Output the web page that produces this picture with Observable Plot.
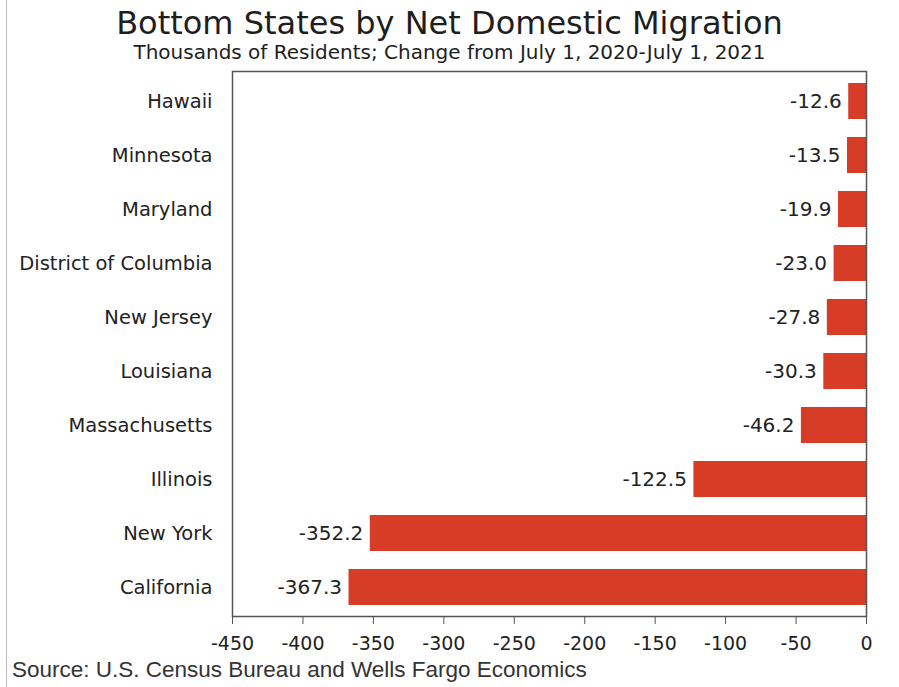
<!DOCTYPE html>
<html>
<head>
<meta charset="utf-8">
<script src="https://cdn.jsdelivr.net/npm/d3@7"></script>
<script src="https://cdn.jsdelivr.net/npm/@observablehq/plot@0.6"></script>
<style>
  html, body { margin: 0; padding: 0; background: #fff; }
  #wrap { position: relative; width: 899px; height: 687px; overflow: hidden;
          font-family: "DejaVu Sans", Verdana, sans-serif; color: #1e1e1e; }
  #wrap::before { content: ""; position: absolute; left: 6px; top: 0; bottom: 0; border-left: 1px solid #bbb; }
  #title { height: 40px; line-height: 40px; text-align: center; font-size: 32px; padding-top: 3px; white-space: nowrap; }
  #subtitle { height: 19px; line-height: 19px; text-align: center; font-size: 20px; white-space: nowrap; }
  #chart { height: 592px; }
  #chart svg { display: block; }
  #source { font-family: "Liberation Sans", Arial, sans-serif; font-size: 22.5px; line-height: 26px; padding-top: 3px; padding-left: 12px; color: #333; white-space: nowrap; }
  svg text { font-family: "DejaVu Sans", Verdana, sans-serif; }
</style>
</head>
<body>
<div id="wrap">
  <div id="title">Bottom States by Net Domestic Migration</div>
  <div id="subtitle">Thousands of Residents; Change from July 1, 2020-July 1, 2021</div>
  <div id="chart"></div>
  <div id="source">Source: U.S. Census Bureau and Wells Fargo Economics</div>
</div>
<script>
const states = ["Hawaii", "Minnesota", "Maryland", "District of Columbia", "New Jersey",
                "Louisiana", "Massachusetts", "Illinois", "New York", "California"];
const values = [-12.6, -13.5, -19.9, -23.0, -27.8, -30.3, -46.2, -122.5, -352.2, -367.3];
const xTicks = [-450, -400, -350, -300, -250, -200, -150, -100, -50, 0];

const data = states.map((s, i) => ({state: s, value: values[i]}));

const chart = Plot.plot({
  width: 899,
  height: 592,
  marginTop: 9,
  marginBottom: 38,
  marginLeft: 232,
  marginRight: 33,
  style: {fontSize: "19px", color: "#222", background: "#fff"},
  x: {domain: [-450, 0], ticks: xTicks, tickFormat: d => String(d), label: null},
  y: {domain: states, label: null, paddingInner: 0.34, paddingOuter: 0.17},
  marks: [
    Plot.barX(data, {x: "value", y: "state", fill: "#d63c26"}),
    Plot.text(data, {x: "value", y: "state", text: d => d.value.toFixed(1), textAnchor: "end", dx: -7, fill: "#222", fontSize: 20}),
    Plot.frame({stroke: "#555", strokeWidth: 1.5}),
    Plot.axisX({ticks: xTicks, tickFormat: d => String(d), tickSize: 8, tickPadding: 12, fontSize: 19, stroke: "#555", label: null}),
    Plot.axisY({tickSize: 0, tickPadding: 20, fontSize: 19.5, label: null})
  ]
});
document.getElementById("chart").appendChild(chart);
</script>
</body>
</html>
